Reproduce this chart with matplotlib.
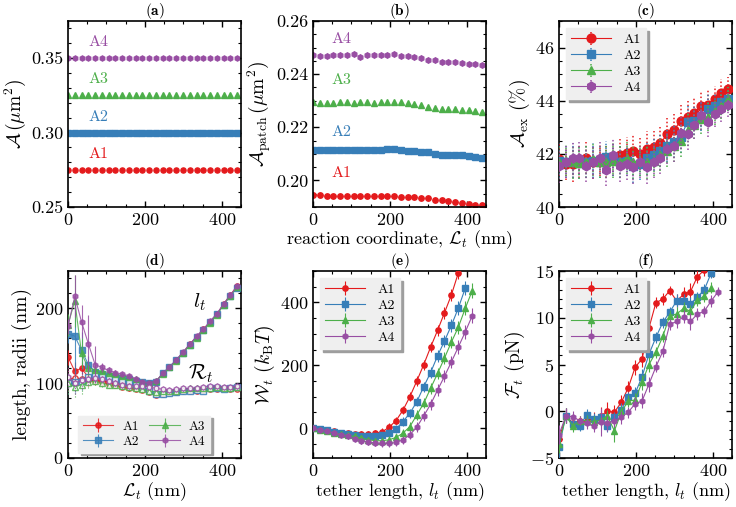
import numpy as np
import matplotlib
matplotlib.use("Agg")
import matplotlib.pyplot as plt
from matplotlib.ticker import MultipleLocator, AutoMinorLocator

plt.rcParams.update({
    "font.family": "serif",
    "font.serif": ["cmr10"],
    "mathtext.fontset": "cm",
    "axes.formatter.use_mathtext": True,
    "axes.unicode_minus": True,
    "xtick.direction": "in",
    "ytick.direction": "in",
    "xtick.top": True,
    "ytick.right": True,
    "xtick.labelsize": 13,
    "ytick.labelsize": 13,
    "axes.linewidth": 1.2,
})

names = ["A1", "A2", "A3", "A4"]
colors = ["#e41a1c", "#377eb8", "#4daf4a", "#984ea3"]
markers = ["o", "s", "^", "h"]

# reaction coordinate grid (nm)
Lt = [0, 17.6, 35.2, 52.8, 70.4, 88, 105.6, 123.2, 140.8, 158.4, 176, 193.6, 211.2,
      228.8, 246.4, 264, 281.6, 299.2, 316.8, 334.4, 352, 369.6, 387.2, 404.8, 422.4, 440]

# (a) total area
area_total = [0.275, 0.300, 0.325, 0.350]

# (b) patch area
patch_A1 = [0.1944, 0.1944, 0.1943, 0.1943, 0.1942, 0.1942, 0.1942, 0.1942, 0.1941, 0.1941, 0.1940, 0.1940, 0.1940,
            0.1939, 0.1938, 0.1936, 0.1934, 0.1932, 0.1928, 0.1925, 0.1922, 0.1918, 0.1915, 0.1912, 0.1909, 0.1906]
patch_A2 = [0.2115, 0.2114, 0.2116, 0.2116, 0.2116, 0.2115, 0.2114, 0.2116, 0.2116, 0.2115, 0.2114, 0.2118, 0.2117,
            0.2115, 0.2112, 0.2110, 0.2108, 0.2106, 0.2100, 0.2096, 0.2096, 0.2095, 0.2094, 0.2092, 0.2088, 0.2084]
patch_A3 = [0.2295, 0.2292, 0.2293, 0.2293, 0.2294, 0.2294, 0.2293, 0.2294, 0.2294, 0.2293, 0.2294, 0.2294, 0.2294,
            0.2294, 0.2293, 0.2288, 0.2282, 0.2278, 0.2274, 0.2270, 0.2268, 0.2267, 0.2265, 0.2264, 0.2262, 0.2256]
patch_A4 = [0.2473, 0.2470, 0.2470, 0.2473, 0.2472, 0.2472, 0.2476, 0.2465, 0.2472, 0.2472, 0.2471, 0.2472, 0.2474,
            0.2470, 0.2468, 0.2464, 0.2460, 0.2452, 0.2452, 0.2447, 0.2444, 0.2446, 0.2443, 0.2440, 0.2438, 0.2436]

# (c) excess area (%)
aex_A1 = [41.8, 41.6, 41.6, 41.7, 41.85, 41.7, 41.75, 41.7, 41.8, 41.95, 42.05, 42.1, 42.0,
          42.2, 42.25, 42.4, 42.75, 42.9, 43.25, 43.4, 43.55, 43.8, 43.85, 44.05, 44.3, 44.45]
aex_A2 = [41.75, 41.7, 41.75, 41.65, 41.7, 41.75, 41.7, 41.9, 41.8, 41.7, 41.75, 41.55, 41.6,
          41.85, 41.95, 42.1, 42.3, 42.45, 42.65, 43.2, 43.25, 43.4, 43.7, 43.8, 43.95, 44.05]
aex_A3 = [41.7, 41.75, 41.7, 41.65, 41.7, 41.8, 41.7, 41.7, 41.75, 41.7, 41.85, 41.7, 41.75,
          41.7, 41.75, 41.95, 42.1, 42.3, 42.5, 42.9, 43.1, 43.3, 43.4, 43.6, 43.8, 44.05]
aex_A4 = [41.55, 41.7, 41.85, 41.85, 41.55, 41.7, 41.85, 41.4, 41.95, 41.55, 41.6, 41.5, 41.7,
          41.5, 41.7, 41.85, 42.2, 42.3, 42.8, 42.75, 43.1, 43.45, 43.2, 43.5, 43.7, 43.85]
aex_err = [0.65, 0.6, 0.65, 0.6, 0.6, 0.65, 0.6, 0.6, 0.65, 0.6, 0.6, 0.65, 0.6,
           0.65, 0.6, 0.6, 0.6, 0.6, 0.6, 0.6, 0.55, 0.55, 0.55, 0.5, 0.5, 0.45]

# (d) tether length l_t and radius R_t
lt_A1 = [135, 116, 120, 108, 105, 103, 102, 101, 100, 99, 99, 99, 100,
         102, 113, 121, 131, 141, 152, 162, 172, 182, 192, 206, 218, 230]
lt_A2 = [166, 163, 144, 125, 115, 112, 110, 108, 107, 105, 103, 101, 100,
         102, 113, 122, 131, 141, 151, 162, 171, 182, 192, 205, 217, 227]
lt_A3 = [178, 210, 140, 120, 118, 116, 114, 112, 110, 108, 105, 102, 100,
         103, 112, 121, 130, 140, 151, 161, 171, 181, 191, 205, 217, 229]
lt_A4 = [176, 216, 182, 153, 125, 121, 117, 114, 112, 110, 106, 102, 100,
         103, 113, 122, 131, 142, 152, 163, 172, 183, 193, 206, 218, 230]
lt_err_A1 = [10, 12, 8, 6, 4, 3, 3, 2, 2, 2, 2, 2, 2, 2, 2, 2, 2, 2, 2, 2, 2, 2, 2, 2, 2, 2]
lt_err_A2 = [12, 50, 25, 12, 6, 4, 3, 3, 2, 2, 2, 2, 2, 2, 2, 2, 2, 2, 2, 2, 2, 2, 2, 2, 2, 2]
lt_err_A3 = [15, 35, 20, 10, 6, 4, 3, 3, 2, 2, 2, 2, 2, 2, 2, 2, 2, 2, 2, 2, 2, 2, 2, 2, 2, 2]
lt_err_A4 = [10, 28, 22, 38, 25, 6, 4, 3, 3, 2, 2, 2, 2, 2, 2, 2, 2, 2, 2, 2, 2, 2, 2, 2, 2, 2]

Rt_A1 = [105, 107, 106, 104, 103, 101, 99, 97, 95, 93, 92, 91, 88,
         84, 85, 87, 88, 89, 90, 90, 91, 92, 92, 93, 92, 92]
Rt_A2 = [100, 101, 103, 108, 112, 110, 108, 106, 103, 101, 98, 95, 90,
         85, 86, 87, 88, 89, 90, 91, 90, 93, 94, 92, 93, 95]
Rt_A3 = [100, 95, 98, 101, 103, 100, 98, 97, 96, 95, 94, 92, 90,
         88, 89, 90, 90, 92, 93, 93, 93, 94, 95, 94, 94, 95]
Rt_A4 = [108, 100, 104, 105, 107, 105, 103, 100, 98, 96, 96, 96, 95,
         93, 92, 91, 92, 93, 93, 94, 95, 96, 96, 95, 95, 96]
Rt_err = [15, 14, 12, 8, 6, 5, 4, 4, 3, 3, 3, 3, 3, 3, 3, 3, 3, 3, 3, 3, 3, 3, 3, 3, 3, 3]

# (e), (f) tether length grid
lt_grid = [0, 18, 36, 54, 72, 90, 108, 126, 144, 162, 180, 198, 216, 234, 252, 270,
           288, 306, 324, 342, 360, 378, 396, 414]

W_A1 = [0, -3, -6.5, -10.5, -14, -17, -19, -19, -19, -16, -12, 3, 24, 57, 100, 150,
        202, 258, 311, 367, 424, 494]
W_A2 = [0, -3, -7.5, -11.7, -15, -19, -22, -25, -26, -26, -23, -15.7, -3, 21, 47.5, 84,
        132, 177, 230, 277, 327, 382, 445]
W_A3 = [0, -6.5, -10.5, -14.8, -19, -23, -26.4, -31.6, -37, -40, -40, -37, -29.5, -16, 5, 42,
        79, 127, 174, 223, 274, 321, 381, 437]
W_A4 = [0, -6.3, -10.5, -15.8, -21, -26, -34, -40, -44, -47.5, -48.6, -48.6, -45.5, -37, -21, 3,
        39, 76, 121, 165, 211, 258, 306, 357]
W_err = [2, 3, 4, 5, 6, 7, 8, 9, 10, 10, 11, 12, 12, 13, 14, 15, 16, 17, 18, 19, 20, 21, 22, 24]

F_A1 = [-3.0, -0.5, -1.25, -1.0, -1.0, -0.8, -0.5, 0.0, -0.1, 0.95, 2.5, 4.7, 5.6, 8.9, 11.6, 12.0,
        12.9, 11.8, 12.5, 12.8, 14.4, 15.1]
F_A2 = [-3.8, -0.5, -1.35, -1.6, -0.36, -0.8, -0.57, -1.6, -0.64, 0.14, 1.5, 1.9, 3.7, 6.1, 7.9, 9.5,
        10.6, 11.8, 11.8, 11.5, 12.2, 13.0, 14.8]
F_A3 = [-3.5, -0.5, -1.6, -1.0, -1.0, -1.1, -0.95, -0.5, -2.1, -0.1, 1.1, 1.2, 3.1, 5.0, 6.3, 8.0,
        10.2, 10.4, 11.0, 10.7, 11.9, 12.3, 13.2]
F_A4 = [-2.5, -0.5, -0.6, -1.0, -1.3, -1.6, -1.1, -1.3, -1.0, -0.64, -0.1, 0.8, 1.1, 2.9, 4.75, 6.4,
        9.3, 9.6, 10.1, 9.6, 10.4, 10.7, 11.8, 12.8]
F_err_A1 = [1.0, 0.8, 0.5, 0.5, 0.6, 0.7, 1.0, 1.0, 0.8, 0.8, 0.7, 0.8, 0.9, 0.8, 0.6, 0.6, 0.5, 0.7, 0.8, 0.9, 0.7, 0.6]
F_err_A2 = [1.2, 0.8, 0.5, 0.5, 0.6, 0.6, 0.6, 0.6, 0.6, 0.7, 0.6, 0.7, 0.8, 0.8, 0.6, 0.6, 0.6, 0.7, 0.7, 0.7, 0.6, 0.6, 0.6]
F_err_A3 = [1.0, 0.8, 0.6, 0.5, 0.6, 0.6, 0.6, 0.6, 1.2, 0.7, 0.6, 0.7, 0.8, 0.8, 0.6, 0.6, 0.6, 0.7, 0.7, 0.7, 0.6, 0.6, 0.6]
F_err_A4 = [1.0, 0.8, 0.6, 0.5, 0.6, 0.6, 1.5, 0.8, 0.7, 0.7, 0.6, 0.7, 0.8, 0.8, 0.6, 0.6, 0.6, 0.7, 0.7, 0.9, 0.6, 0.6, 0.6, 0.5]

patch_all = [patch_A1, patch_A2, patch_A3, patch_A4]
aex_all = [aex_A1, aex_A2, aex_A3, aex_A4]
lt_all = [lt_A1, lt_A2, lt_A3, lt_A4]
lt_err_all = [lt_err_A1, lt_err_A2, lt_err_A3, lt_err_A4]
Rt_all = [Rt_A1, Rt_A2, Rt_A3, Rt_A4]
W_all = [W_A1, W_A2, W_A3, W_A4]
F_all = [F_A1, F_A2, F_A3, F_A4]
F_err_all = [F_err_A1, F_err_A2, F_err_A3, F_err_A4]

W_fig, H_fig = 736, 507
fig = plt.figure(figsize=(W_fig / 100, H_fig / 100), dpi=100)


def make_ax(left, top, right, bottom):
    return fig.add_axes([left / W_fig, 1 - bottom / H_fig, (right - left) / W_fig, (bottom - top) / H_fig])


lefts = [68, 313, 559]
wid = 173
row_tb = [(21, 207), (271, 458)]
axs = []
for (t, b) in row_tb:
    for l in lefts:
        axs.append(make_ax(l, t, l + wid, b))
ax_a, ax_b, ax_c, ax_d, ax_e, ax_f = axs

titles = ["(a)", "(b)", "(c)", "(d)", "(e)", "(f)"]
for ax, t in zip(axs, titles):
    ax.set_title(r"$\mathbf{" + t + "}$", fontsize=11, pad=2)
    ax.set_xlim(0, 450)
    ax.xaxis.set_major_locator(MultipleLocator(200))
    ax.xaxis.set_minor_locator(MultipleLocator(50))
    ax.yaxis.set_minor_locator(AutoMinorLocator())
    ax.tick_params(which="major", length=4.5, width=1)
    ax.tick_params(which="minor", length=2.3, width=0.8)

LEG_KW = dict(fontsize=10, fancybox=False, shadow={"color": "0.62", "alpha": 1},
              handlelength=2.9, labelspacing=0.25, borderpad=0.35, handletextpad=0.9)


def style_legend(leg):
    fr = leg.get_frame()
    fr.set_facecolor("#efefef")
    fr.set_edgecolor("#efefef")
    fr.set_alpha(1)


def dotted_errbar(eb):
    for coll in eb[2]:
        coll.set_linestyle((0, (1, 1.5)))


# (a)
for i in range(4):
    ax_a.plot(Lt, np.full(len(Lt), area_total[i]), linestyle="none", marker=markers[i],
              color=colors[i], markersize=3.7)
    ax_a.text(80, area_total[i] + 0.008, names[i], color=colors[i], fontsize=11.5, ha="center")
ax_a.set_ylim(0.25, 0.375)
ax_a.yaxis.set_major_locator(MultipleLocator(0.05))
ax_a.yaxis.set_major_formatter(matplotlib.ticker.FormatStrFormatter("%.2f"))
ax_a.set_ylabel(r"$\mathcal{A}\,(\mu\mathrm{m}^2)$", fontsize=14, labelpad=2)

# (b)
label_y_b = [0.2013, 0.2167, 0.2362, 0.2518]
for i in range(4):
    ax_b.plot(Lt, patch_all[i], linestyle="none", marker=markers[i], color=colors[i], markersize=3.9)
    ax_b.text(73, label_y_b[i], names[i], color=colors[i], fontsize=11.5, ha="center")
ax_b.set_ylim(0.19, 0.26)
ax_b.yaxis.set_major_locator(MultipleLocator(0.02))
ax_b.yaxis.set_major_formatter(matplotlib.ticker.FormatStrFormatter("%.2f"))
ax_b.set_ylabel(r"$\mathcal{A}_{\mathrm{patch}}\,(\mu\mathrm{m}^2)$", fontsize=14, labelpad=2)
ax_b.set_xlabel(r"reaction coordinate, $\mathcal{L}_t$ (nm)", fontsize=13, labelpad=0)

# (c)
for i in range(4):
    eb = ax_c.errorbar(Lt, aex_all[i], yerr=aex_err, color=colors[i], marker=markers[i],
                       markersize=6.3, linewidth=0.8, elinewidth=1.1, capsize=0,
                       label=names[i], zorder=3 + i)
    dotted_errbar(eb)
ax_c.set_ylim(40, 47)
ax_c.yaxis.set_major_locator(MultipleLocator(2))
ax_c.set_ylabel(r"$\mathcal{A}_{\mathrm{ex}}$ (%)", fontsize=14, labelpad=2)
leg = ax_c.legend(loc="upper left", borderaxespad=0.5, **LEG_KW)
style_legend(leg)

# (d)
for i in range(4):
    eb = ax_d.errorbar(Lt, lt_all[i], yerr=lt_err_all[i], color=colors[i], marker=markers[i],
                       markersize=3.8, linewidth=0.8, elinewidth=0.8, alpha=0.85, label=names[i],
                       zorder=3 + i)
    eb2 = ax_d.errorbar(Lt, Rt_all[i], yerr=Rt_err, color=colors[i], marker=markers[i],
                        markersize=3.8, linewidth=0.8, elinewidth=0.8, markerfacecolor="white",
                        alpha=0.85, zorder=3 + i)
    dotted_errbar(eb2)
ax_d.text(342, 208, r"$l_t$", fontsize=15, ha="center", va="center")
ax_d.text(345, 112, r"$\mathcal{R}_t$", fontsize=15, ha="center", va="center")
ax_d.set_ylim(0, 250)
ax_d.yaxis.set_major_locator(MultipleLocator(100))
ax_d.set_ylabel("length, radii (nm)", fontsize=14, labelpad=2)
ax_d.set_xlabel(r"$\mathcal{L}_t$ (nm)", fontsize=13, labelpad=1)
leg_d_kw = dict(LEG_KW)
leg_d_kw.update(fontsize=9.5, handlelength=2.3, handletextpad=0.7)
leg = ax_d.legend(loc="lower center", ncol=2, borderaxespad=0.4, columnspacing=0.8,
                  bbox_to_anchor=(0.44, 0), **leg_d_kw)
style_legend(leg)

# (e)
for i in range(4):
    n = len(W_all[i])
    ax_e.errorbar(lt_grid[:n], W_all[i], yerr=W_err[:n], color=colors[i], marker=markers[i],
                  markersize=3.8, linewidth=0.8, elinewidth=0.8, label=names[i], zorder=3 + i)
ax_e.set_ylim(-95, 500)
ax_e.yaxis.set_major_locator(MultipleLocator(200))
ax_e.set_ylabel(r"$\mathcal{W}_t$ ($k_{\mathrm{B}}T$)", fontsize=14, labelpad=2)
ax_e.set_xlabel(r"tether length, $l_t$ (nm)", fontsize=13, labelpad=1)
leg = ax_e.legend(loc="upper left", borderaxespad=0.5, **LEG_KW)
style_legend(leg)

# (f)
for i in range(4):
    n = len(F_all[i])
    ax_f.errorbar(lt_grid[:n], F_all[i], yerr=F_err_all[i], color=colors[i], marker=markers[i],
                  markersize=3.8, linewidth=0.8, elinewidth=0.8, label=names[i], zorder=3 + i)
ax_f.set_ylim(-5, 15)
ax_f.yaxis.set_major_locator(MultipleLocator(5))
ax_f.set_ylabel(r"$\mathcal{F}_t$ (pN)", fontsize=14, labelpad=2)
ax_f.set_xlabel(r"tether length, $l_t$ (nm)", fontsize=13, labelpad=1)
leg = ax_f.legend(loc="upper left", borderaxespad=0.5, **LEG_KW)
style_legend(leg)

fig.savefig("out.png", dpi=100)
